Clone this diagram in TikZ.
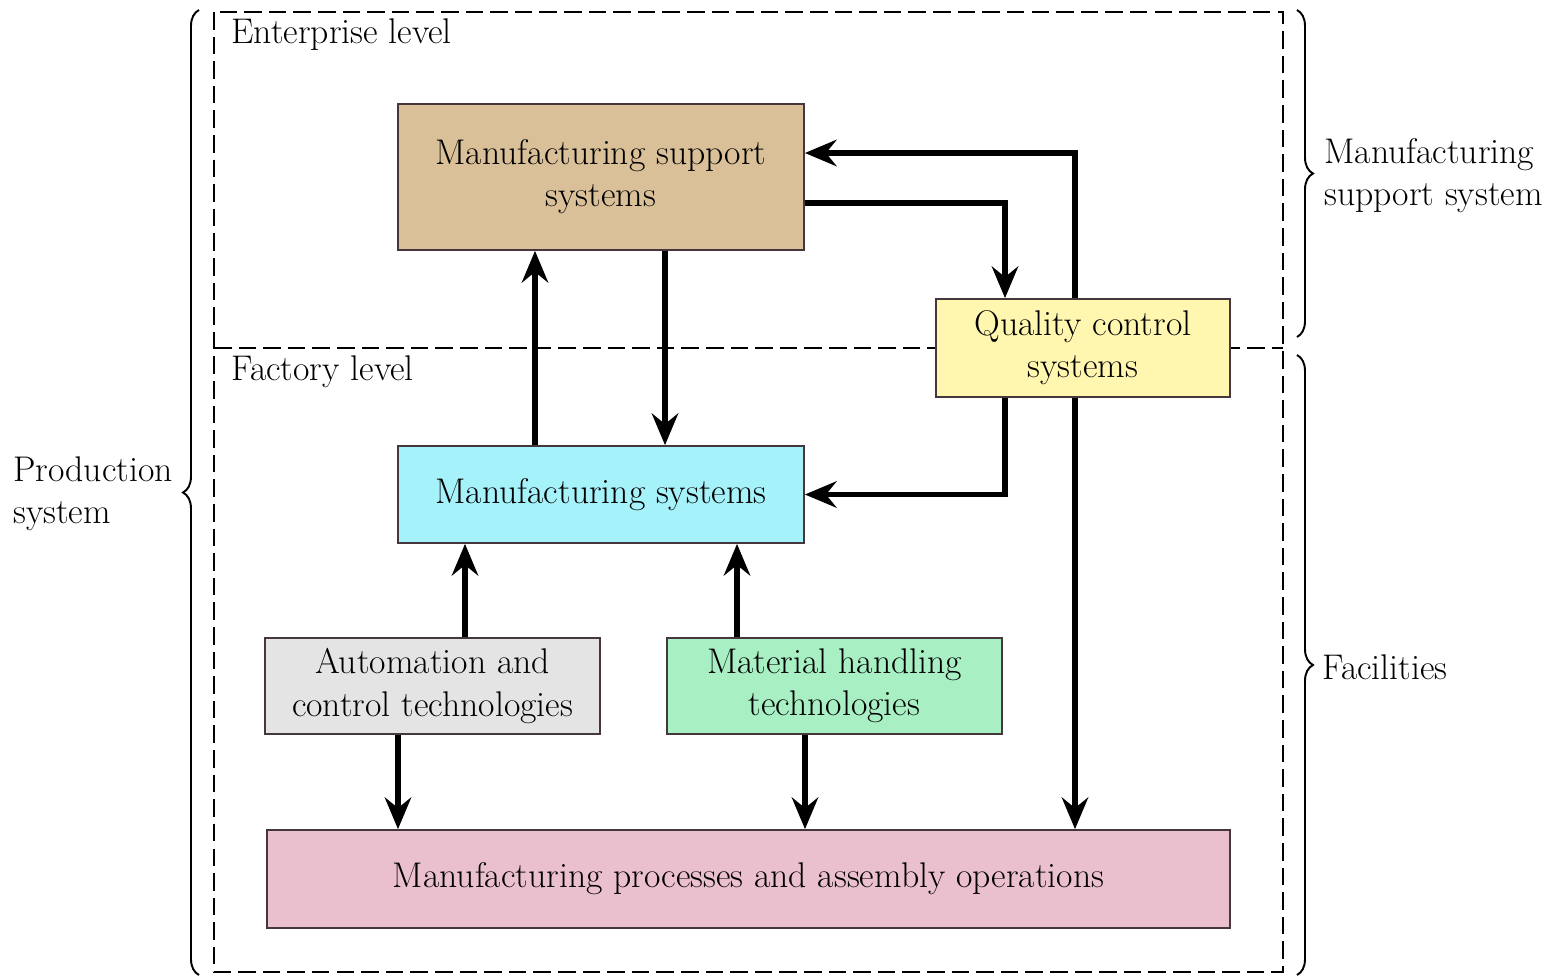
\documentclass[tikz,border=0pt]{standalone}
\usepackage{xcolor}
\usetikzlibrary{arrows.meta}
\usetikzlibrary{decorations.pathreplacing}
\definecolor{mytan}{RGB}{217,192,152}
\definecolor{myyellow}{RGB}{255,247,176}
\definecolor{mycyan}{RGB}{166,242,250}
\definecolor{mygray}{RGB}{228,228,228}
\definecolor{mygreen}{RGB}{168,240,196}
\definecolor{mypink}{RGB}{235,192,206}
\definecolor{myedge}{RGB}{70,55,60}

\begin{document}
\begin{tikzpicture}[x=0.2mm,y=-0.2mm,
  box/.style={draw=myedge,line width=1pt,align=center,inner sep=0pt,font=\fontsize{20.3}{24}\selectfont},
  flow/.style={line width=2.9pt,-{Stealth[length=18pt,width=15pt,inset=6pt]}},
  level/.style={line width=1pt,dash pattern=on 10pt off 4pt},
  curly/.style={line width=1.1pt,decorate,decoration={brace,amplitude=3.2mm}},
  lbl/.style={anchor=west,align=left,inner sep=0pt,font=\fontsize{20.3}{24}\selectfont}]
  \useasboundingbox (0,0) rectangle (1556,975);
  %The two levels, dashed:
  \draw[level] (214,12) rectangle (1283,972);
  \draw[level] (214,348) -- (1283,348);
  \node[lbl] (ent) at (231,35) {Enterprise level};
  \node[lbl] (fac) at (231,372) {Factory level};

  %The braces with their labels:
  \draw[curly] (199,975) -- (199,10);
  \draw[curly] (1297,10) -- (1297,337);
  \draw[curly] (1297,355) -- (1297,975);
  \node[lbl] (prod) at (13,494) {Production\\system};
  \node[lbl] (supp) at (1324,176) {Manufacturing\\support system};
  \node[lbl] (facil) at (1322,667) {Facilities};

  %The boxes:
  \node[box,fill=mytan,minimum width=81.2mm,minimum height=29.2mm] (mss) at (601,177) {Manufacturing support\\systems};
  \node[box,fill=myyellow,minimum width=58.8mm,minimum height=19.6mm] (qc) at (1083,348) {Quality control\\systems};
  \node[box,fill=mycyan,minimum width=81.2mm,minimum height=19.4mm] (ms) at (601,494.5) {Manufacturing systems};
  \node[box,fill=mygray,minimum width=67mm,minimum height=19.2mm] (auto) at (432.5,686) {Automation and\\control technologies};
  \node[box,fill=mygreen,minimum width=67mm,minimum height=19.2mm] (mat) at (834.5,686) {Material handling\\technologies};
  \node[box,fill=mypink,minimum width=192.6mm,minimum height=19.6mm] (proc) at (748.5,879) {Manufacturing processes and assembly operations};

  %Where the arrows run:
  \coordinate (k1) at (1075,153);
  \coordinate (k2) at (1005,203);
  \coordinate (k3) at (535,0);
  \coordinate (k4) at (665,0);
  \coordinate (k5) at (465,0);
  \coordinate (k6) at (737,0);
  \coordinate (k7) at (398,0);
  \coordinate (k8) at (805,0);

  %The arrows with bends:
  \draw[flow] (qc.north -| k1) |- (mss.east |- k1);
  \draw[flow] (mss.east |- k2) -| (qc.north -| k2);
  \draw[flow] (qc.south -| k2) |- (ms.east);
  %The straight arrows:
  \foreach \from/\to/\col in {ms.north/mss.south/k3, mss.south/ms.north/k4,
      auto.north/ms.south/k5, mat.north/ms.south/k6,
      auto.south/proc.north/k7, mat.south/proc.north/k8, qc.south/proc.north/k1}{
    \draw[flow] (\from -| \col) -- (\to -| \col);
  }
\end{tikzpicture}
\end{document}
